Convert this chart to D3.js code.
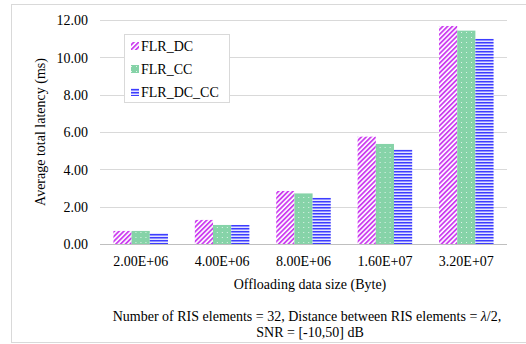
<!DOCTYPE html>
<html>
<head>
<meta charset="utf-8">
<script src="https://cdn.jsdelivr.net/npm/d3@7/dist/d3.min.js"></script>
</head>
<body style="margin:0">
<svg id="chart" width="526" height="344"></svg>
<script>
// Offloading data sizes (Byte) on the x axis
const categories = ["2.00E+06", "4.00E+06", "8.00E+06", "1.60E+07", "3.20E+07"];
const seriesNames = ["FLR_DC", "FLR_CC", "FLR_DC_CC"];
// Average total latency (ms)
const flrDC   = [0.70, 1.29, 2.84, 5.75, 11.68];
const flrCC   = [0.70, 1.02, 2.71, 5.36, 11.43];
const flrDCCC = [0.59, 1.02, 2.48, 5.07, 11.00];
const yTicks = [0, 2, 4, 6, 8, 10, 12];

const seriesValues = [flrDC, flrCC, flrDCCC];

const FONT = "'Liberation Serif'";
const svg = d3.select("#chart");
const W = 526;
const plot = { left: 100, right: 507, top: 20, bottom: 244 };

// Outer frame of the chart area
svg.append("rect")
  .attr("x", 11.5).attr("y", 4.5)
  .attr("width", W + 10).attr("height", 338)
  .attr("fill", "#fff").attr("stroke", "#d9d9d9").attr("stroke-width", 1);

// Fill patterns for the three series
const defs = svg.append("defs");

const pDC = defs.append("pattern")
  .attr("id", "pat-dc").attr("patternUnits", "userSpaceOnUse")
  .attr("width", 3.4).attr("height", 3.4)
  .attr("patternTransform", "rotate(45)");
pDC.append("rect").attr("width", 3.4).attr("height", 3.4).attr("fill", "#fff");
pDC.append("rect").attr("width", 1.8).attr("height", 3.4).attr("fill", "#cc3ef0");

const pCC = defs.append("pattern")
  .attr("id", "pat-cc").attr("patternUnits", "userSpaceOnUse")
  .attr("width", 5).attr("height", 5);
pCC.append("rect").attr("width", 5).attr("height", 5).attr("fill", "#86d3a8");
pCC.append("rect").attr("x", 2).attr("y", 2).attr("width", 1).attr("height", 1)
  .attr("fill", "#ffffff").attr("opacity", 0.75);

const pDCCC = defs.append("pattern")
  .attr("id", "pat-dccc").attr("patternUnits", "userSpaceOnUse")
  .attr("width", 3).attr("height", 3);
pDCCC.append("rect").attr("width", 3).attr("height", 3).attr("fill", "#e4e4ff");
pDCCC.append("rect").attr("y", 0).attr("width", 3).attr("height", 1.5).attr("fill", "#3d3dff");

const fills = ["url(#pat-dc)", "url(#pat-cc)", "url(#pat-dccc)"];

// Scales
const x = d3.scaleBand()
  .domain(categories)
  .range([plot.left, plot.right])
  .paddingInner(0.33)
  .paddingOuter(0.165);

const xs = d3.scaleBand()
  .domain(seriesNames)
  .range([0, x.bandwidth()]);

const y = d3.scaleLinear().domain([0, 12]).range([plot.bottom, plot.top]);

// Horizontal gridlines
svg.append("g")
  .selectAll("line")
  .data(yTicks.filter(d => d > 0))
  .join("line")
  .attr("x1", plot.left).attr("x2", plot.right)
  .attr("y1", d => Math.round(y(d)) + 0.5).attr("y2", d => Math.round(y(d)) + 0.5)
  .attr("stroke", "#d9d9d9").attr("stroke-width", 1);

// Bars
const groups = svg.append("g")
  .selectAll("g")
  .data(categories)
  .join("g")
  .attr("transform", d => `translate(${x(d)},0)`);

groups.selectAll("rect")
  .data((c, i) => seriesNames.map((s, k) => ({ s, k, v: seriesValues[k][i] })))
  .join("rect")
  .attr("x", d => xs(d.s))
  .attr("width", xs.bandwidth())
  .attr("y", d => y(d.v))
  .attr("height", d => y(0) - y(d.v))
  .attr("fill", d => fills[d.k]);

// X axis baseline and category labels
const xAxis = svg.append("g")
  .attr("transform", `translate(0,${y(0)})`)
  .call(d3.axisBottom(x).tickSize(0).tickPadding(0));
xAxis.select(".domain").attr("stroke", "#bfbfbf").attr("d", `M${plot.left},0.5H${plot.right}`);
xAxis.selectAll("text")
  .attr("dy", null).attr("y", 22)
  .style("font-family", FONT).style("font-size", "14px");

// Y axis labels
const yAxis = svg.append("g")
  .attr("transform", `translate(${plot.left},0)`)
  .call(d3.axisLeft(y).tickValues(yTicks).tickFormat(d3.format(".2f")).tickSize(0).tickPadding(12));
yAxis.select(".domain").remove();
yAxis.selectAll("text")
  .attr("dy", "0.35em")
  .style("font-family", FONT).style("font-size", "14px");

// Axis titles
svg.append("text")
  .attr("transform", `translate(45,${(plot.top + plot.bottom) / 2}) rotate(-90)`)
  .attr("text-anchor", "middle")
  .style("font-family", FONT).style("font-size", "14px")
  .text("Average total latency (ms)");

svg.append("text")
  .attr("x", 310).attr("y", 289)
  .attr("text-anchor", "middle")
  .style("font-family", FONT).style("font-size", "14px")
  .text("Offloading data size (Byte)");

// Simulation settings note
const note = svg.append("text")
  .attr("x", 307).attr("y", 321)
  .attr("text-anchor", "middle")
  .style("font-family", FONT).style("font-size", "14px");
note.append("tspan").text("Number of RIS elements = 32, Distance between RIS elements = ");
note.append("tspan").style("font-style", "italic").text("λ");
note.append("tspan").text("/2,");

svg.append("text")
  .attr("x", 310).attr("y", 337)
  .attr("text-anchor", "middle")
  .style("font-family", FONT).style("font-size", "14px")
  .text("SNR = [-10,50] dB");

// Legend
const legend = svg.append("g").attr("transform", "translate(124,34)");
legend.append("rect")
  .attr("x", 0.5).attr("y", 0.5).attr("width", 105).attr("height", 68)
  .attr("fill", "#fff").attr("stroke", "#d9d9d9");
const items = legend.selectAll("g.item")
  .data(seriesNames)
  .join("g")
  .attr("class", "item")
  .attr("transform", (d, i) => `translate(0,${12 + i * 23})`);
items.append("rect")
  .attr("x", 7).attr("y", -4).attr("width", 8).attr("height", 8)
  .attr("fill", (d, i) => fills[i]);
items.append("text")
  .attr("x", 17).attr("y", 5)
  .style("font-family", FONT).style("font-size", "14px")
  .text(d => d);
</script>
</body>
</html>
